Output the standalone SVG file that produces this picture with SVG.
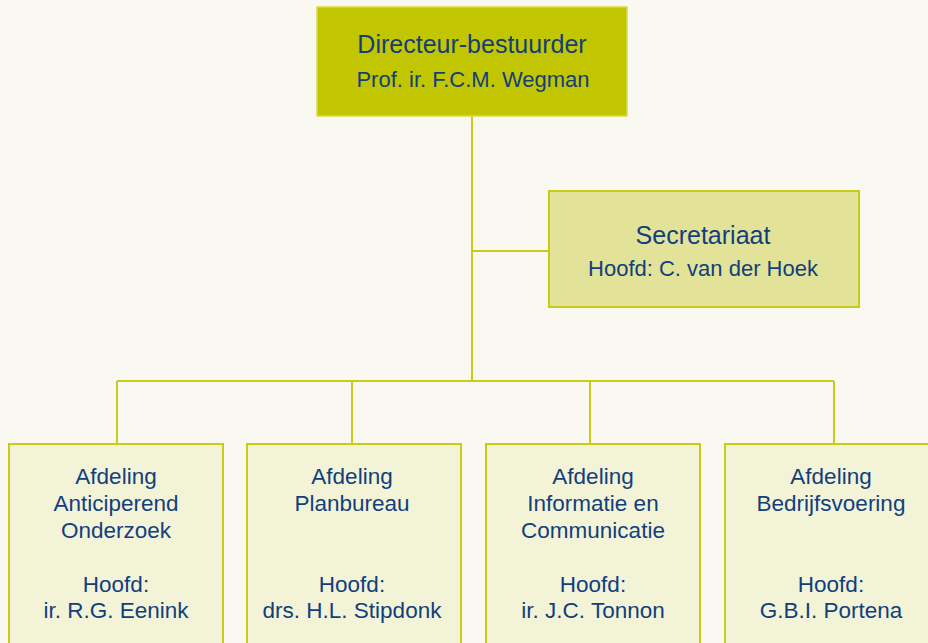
<svg xmlns="http://www.w3.org/2000/svg" width="928" height="643" viewBox="0 0 928 643">
<style>
text{font-family:"Liberation Sans",Arial,sans-serif;fill:#123f7c;text-anchor:middle}
.t{font-size:25px}
.s{font-size:22px}
.b{font-size:22.5px}
.ln{stroke:#c9cc16;stroke-width:2;fill:none}
</style>
<rect width="928" height="643" fill="#f9f9f1"/>
<g id="connectors">
<path class="ln" d="M472 116V381M472 251H549M117 381H834M117 381V444M352 381V444M590 381V444M834 381V444"/>
</g>
<g id="director">
<rect x="317" y="7" width="310" height="109" fill="#c2c600" stroke="#d6d94f" stroke-width="1.5"/>
<text class="t" x="472" y="53">Directeur-bestuurder</text>
<text class="s" x="473" y="87">Prof. ir. F.C.M. Wegman</text>
</g>
<g id="secretariaat">
<rect x="549" y="191" width="310" height="116" fill="#e2e299" stroke="#c9cc16" stroke-width="2"/>
<text class="t" x="703" y="244">Secretariaat</text>
<text class="s" x="703" y="276">Hoofd: C. van der Hoek</text>
</g>
<g id="afd1">
<rect x="9" y="444" width="214" height="210" fill="#f3f3d8" stroke="#c9cc16" stroke-width="2"/>
<text class="b" x="116" y="484">Afdeling</text>
<text class="b" x="116" y="511">Anticiperend</text>
<text class="b" x="116" y="538">Onderzoek</text>
<text class="b" x="116" y="592">Hoofd:</text>
<text class="b" x="116" y="618">ir. R.G. Eenink</text>
</g>
<g id="afd2">
<rect x="247" y="444" width="214" height="210" fill="#f3f3d8" stroke="#c9cc16" stroke-width="2"/>
<text class="b" x="352" y="484">Afdeling</text>
<text class="b" x="352" y="511">Planbureau</text>
<text class="b" x="352" y="592">Hoofd:</text>
<text class="b" x="352" y="618">drs. H.L. Stipdonk</text>
</g>
<g id="afd3">
<rect x="486" y="444" width="214" height="210" fill="#f3f3d8" stroke="#c9cc16" stroke-width="2"/>
<text class="b" x="593" y="484">Afdeling</text>
<text class="b" x="593" y="511">Informatie en</text>
<text class="b" x="593" y="538">Communicatie</text>
<text class="b" x="593" y="592">Hoofd:</text>
<text class="b" x="593" y="618">ir. J.C. Tonnon</text>
</g>
<g id="afd4">
<rect x="725" y="444" width="214" height="210" fill="#f3f3d8" stroke="#c9cc16" stroke-width="2"/>
<text class="b" x="831" y="484">Afdeling</text>
<text class="b" x="831" y="511">Bedrijfsvoering</text>
<text class="b" x="831" y="592">Hoofd:</text>
<text class="b" x="831" y="618">G.B.I. Portena</text>
</g>
</svg>
